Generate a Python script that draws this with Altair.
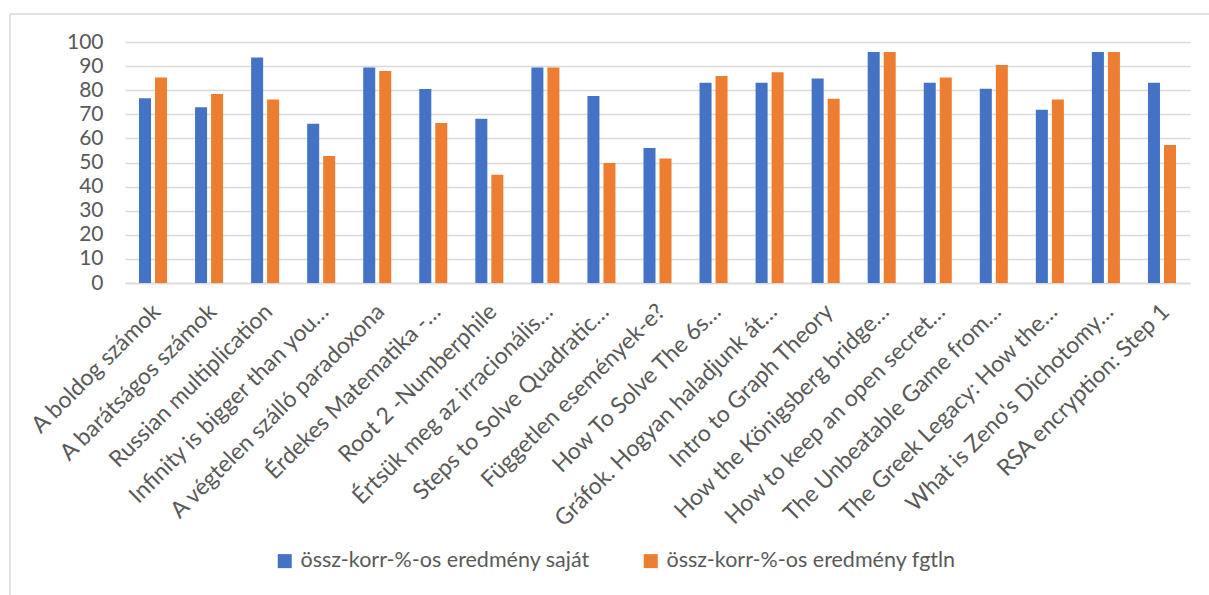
import altair as alt
import pandas as pd

# Video titles (as they appear, truncated where the title is long)
videos = [
    "A boldog számok",
    "A barátságos számok",
    "Russian multiplication",
    "Infinity is bigger than you…",
    "A végtelen szálló paradoxona",
    "Érdekes Matematika -…",
    "Root 2 -Numberphile",
    "Értsük meg az irracionális…",
    "Steps to Solve Quadratic…",
    "Független események-e?",
    "How To Solve The 6s…",
    "Gráfok. Hogyan haladjunk át…",
    "Intro to Graph Theory",
    "How the Königsberg bridge…",
    "How to keep an open secret…",
    "The Unbeatable Game from…",
    "The Greek Legacy: How the…",
    "What is Zeno's Dichotomy…",
    "RSA encryption: Step 1",
]

series_names = [
    "össz-korr-%-os eredmény saját",
    "össz-korr-%-os eredmény fgtln",
]

sajat = [76.7, 72.9, 93.6, 66.1, 89.4, 80.5, 68.2, 89.4, 77.6, 56.0,
         83.1, 83.1, 84.9, 95.9, 83.1, 80.6, 71.9, 95.9, 83.1]
fgtln = [85.3, 78.4, 76.1, 52.7, 88.0, 66.4, 44.9, 89.4, 49.8, 51.7,
         85.9, 87.4, 76.5, 95.9, 85.3, 90.5, 76.1, 95.9, 57.3]

rows = []
for i, v in enumerate(videos):
    rows.append({"video": v, "series": series_names[0], "value": sajat[i]})
    rows.append({"video": v, "series": series_names[1], "value": fgtln[i]})
df = pd.DataFrame(rows)

FONT = "Lato"
GREY_TEXT = "#595959"
GRID = "#d9d9d9"

bars = alt.Chart(df).mark_bar().encode(
    x=alt.X(
        "video:N",
        sort=videos,
        title=None,
        scale=alt.Scale(paddingInner=0.5, paddingOuter=0.25),
        axis=alt.Axis(
            labelAngle=-45,
            labelFontSize=23,
            labelColor=GREY_TEXT,
            labelFont=FONT,
            labelLimit=400,
            labelPadding=17,
            labelOffset=-4,
            ticks=False,
            domainColor=GRID,
            domainWidth=1.5,
        ),
    ),
    xOffset=alt.XOffset(
        "series:N",
        sort=series_names,
        scale=alt.Scale(paddingInner=0.25, paddingOuter=0),
    ),
    y=alt.Y(
        "value:Q",
        title=None,
        scale=alt.Scale(domain=[0, 100]),
        axis=alt.Axis(
            values=list(range(0, 101, 10)),
            labelFontSize=21,
            labelColor=GREY_TEXT,
            labelFont=FONT,
            labelPadding=22,
            ticks=False,
            domain=False,
            gridColor=GRID,
            gridWidth=1.5,
        ),
    ),
    color=alt.Color(
        "series:N",
        sort=series_names,
        scale=alt.Scale(domain=series_names, range=["#4472C4", "#ED7D31"]),
        legend=alt.Legend(
            title=None,
            orient="none",
            direction="horizontal",
            legendX=149,
            legendY=508,
            symbolType="square",
            symbolSize=196,
            symbolStrokeWidth=0,
            labelFontSize=21.5,
            labelFont=FONT,
            labelColor=GREY_TEXT,
            labelOffset=5,
            columnPadding=50,
            labelLimit=400,
        ),
    ),
)

# Light frame around the whole chart area
frame = alt.Chart(pd.DataFrame({"k": [0]})).mark_rect(
    fill=None, stroke=GRID, strokeWidth=1.5
).encode(
    x=alt.value(-115),
    x2=alt.value(1200),
    y=alt.value(-28),
    y2=alt.value(600),
)

chart = alt.layer(frame, bars).properties(
    width=1065,
    height=241,
    padding={"left": 125, "top": 42, "right": 19, "bottom": 312},
    autosize=alt.AutoSizeParams(type="none"),
    background="white",
).configure_view(stroke=None)

chart.save("out.html", embed_options={"renderer": "svg", "actions": False})
